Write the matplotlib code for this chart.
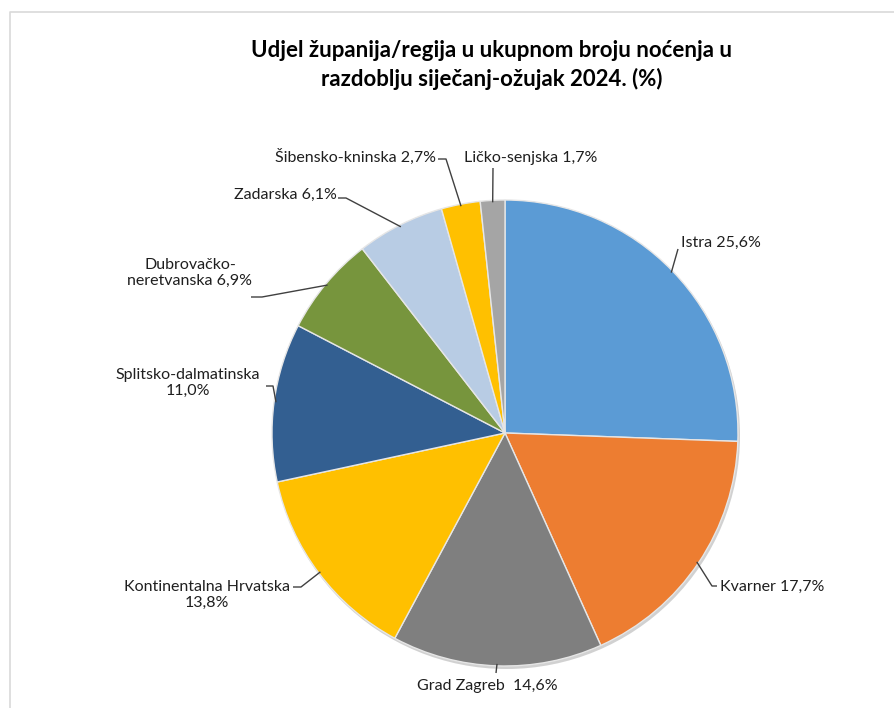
"""
Udjel zupanija/regija u ukupnom broju nocenja, sijecanj-ozujak 2024.
Izlaz: out.png
"""

import numpy as np
import matplotlib
matplotlib.use("Agg")
import matplotlib.pyplot as plt
from matplotlib.patches import Circle

plt.rcParams["font.family"] = ["Lato", "DejaVu Sans"]

# podaci
REGIJE = [
    "Istra", "Kvarner", "Grad Zagreb", "Kontinentalna Hrvatska",
    "Splitsko-dalmatinska", "Dubrovačko-neretvanska", "Zadarska",
    "Šibensko-kninska", "Ličko-senjska",
]
UDJELI = [25.6, 17.7, 14.6, 13.8, 11.0, 6.9, 6.1, 2.7, 1.7]
OZNAKE = [
    "Istra 25,6%", "Kvarner 17,7%", "Grad Zagreb  14,6%",
    "Kontinentalna Hrvatska\n13,8%", "Splitsko-dalmatinska\n11,0%",
    "Dubrovačko-\nneretvanska 6,9%", "Zadarska 6,1%",
    "Šibensko-kninska 2,7%", "Ličko-senjska 1,7%",
]
BOJE = ["#5B9BD5", "#ED7D31", "#7F7F7F", "#FFC000", "#335F91",
        "#77953D", "#B8CCE4", "#FFC000", "#A5A5A5"]

W, H = 895, 708
CX, CY, R = 505, H - 433, 233

# polozaj teksta (px od vrha) i poravnanje
TEKST = [
    ((681, 243), "left"),
    ((720, 587), "left"),
    ((487, 686), "center"),
    ((207, 595), "center"),
    ((188, 383), "center"),
    ((190, 273), "center"),
    ((337, 195), "right"),
    ((436, 157), "right"),
    ((531, 158), "center"),
]
# lakat linije (ili None) i kraj linije uz tekst, px od vrha
LAKAT = [None, (712, 586), None, (301, 587), (273, 386),
         (262, 297), (346, 198), (446, 159), None]
KRAJ = [(678, 249), (717, 586), (496, 673), (293, 587), (266, 386),
        (251, 297), (338, 198), (438, 159), (493, 168)]

fig = plt.figure(figsize=(W / 100, H / 100), dpi=100)
ax = fig.add_axes([0, 0, 1, 1])

# okvir
ax.plot([10, 10, W + 5], [-5, H - 12, H - 12], color="#D9D9D9", lw=1.2)

# blaga sjena
ax.add_patch(Circle((CX + 1.5, CY - 2.5), R + 0.5, color="#9A9A9A",
                    alpha=0.45, lw=0, zorder=0))

wedges, _ = ax.pie(
    UDJELI, colors=BOJE, startangle=90, counterclock=False,
    center=(CX, CY), radius=R, frame=True,
    wedgeprops=dict(edgecolor="#E6E6E6", linewidth=1.0, zorder=1),
)
ax.set_xlim(0, W)
ax.set_ylim(0, H)
ax.set_aspect("equal")
ax.axis("off")

for w, oznaka, (tpos, ha), lakat, kraj in zip(wedges, OZNAKE, TEKST, LAKAT, KRAJ):
    kut = np.deg2rad((w.theta1 + w.theta2) / 2)
    xs = [CX + (R - 2) * np.cos(kut)]
    ys = [CY + (R - 2) * np.sin(kut)]
    if lakat is not None:
        xs.append(lakat[0])
        ys.append(H - lakat[1])
    xs.append(kraj[0])
    ys.append(H - kraj[1])
    ax.plot(xs, ys, color="#404040", lw=1.0, solid_capstyle="butt", zorder=3)
    ax.text(tpos[0], H - tpos[1], oznaka, ha=ha, va="center",
            fontsize=11.5, color="#1F1F1F", linespacing=1.15)

ax.text(492, H - 65,
        "Udjel županija/regija u ukupnom broju noćenja u\n"
        "razdoblju siječanj-ožujak 2024. (%)",
        ha="center", va="center", fontsize=16, fontweight="bold",
        color="#000000", linespacing=1.35)

fig.savefig("out.png", dpi=100)
plt.close(fig)
